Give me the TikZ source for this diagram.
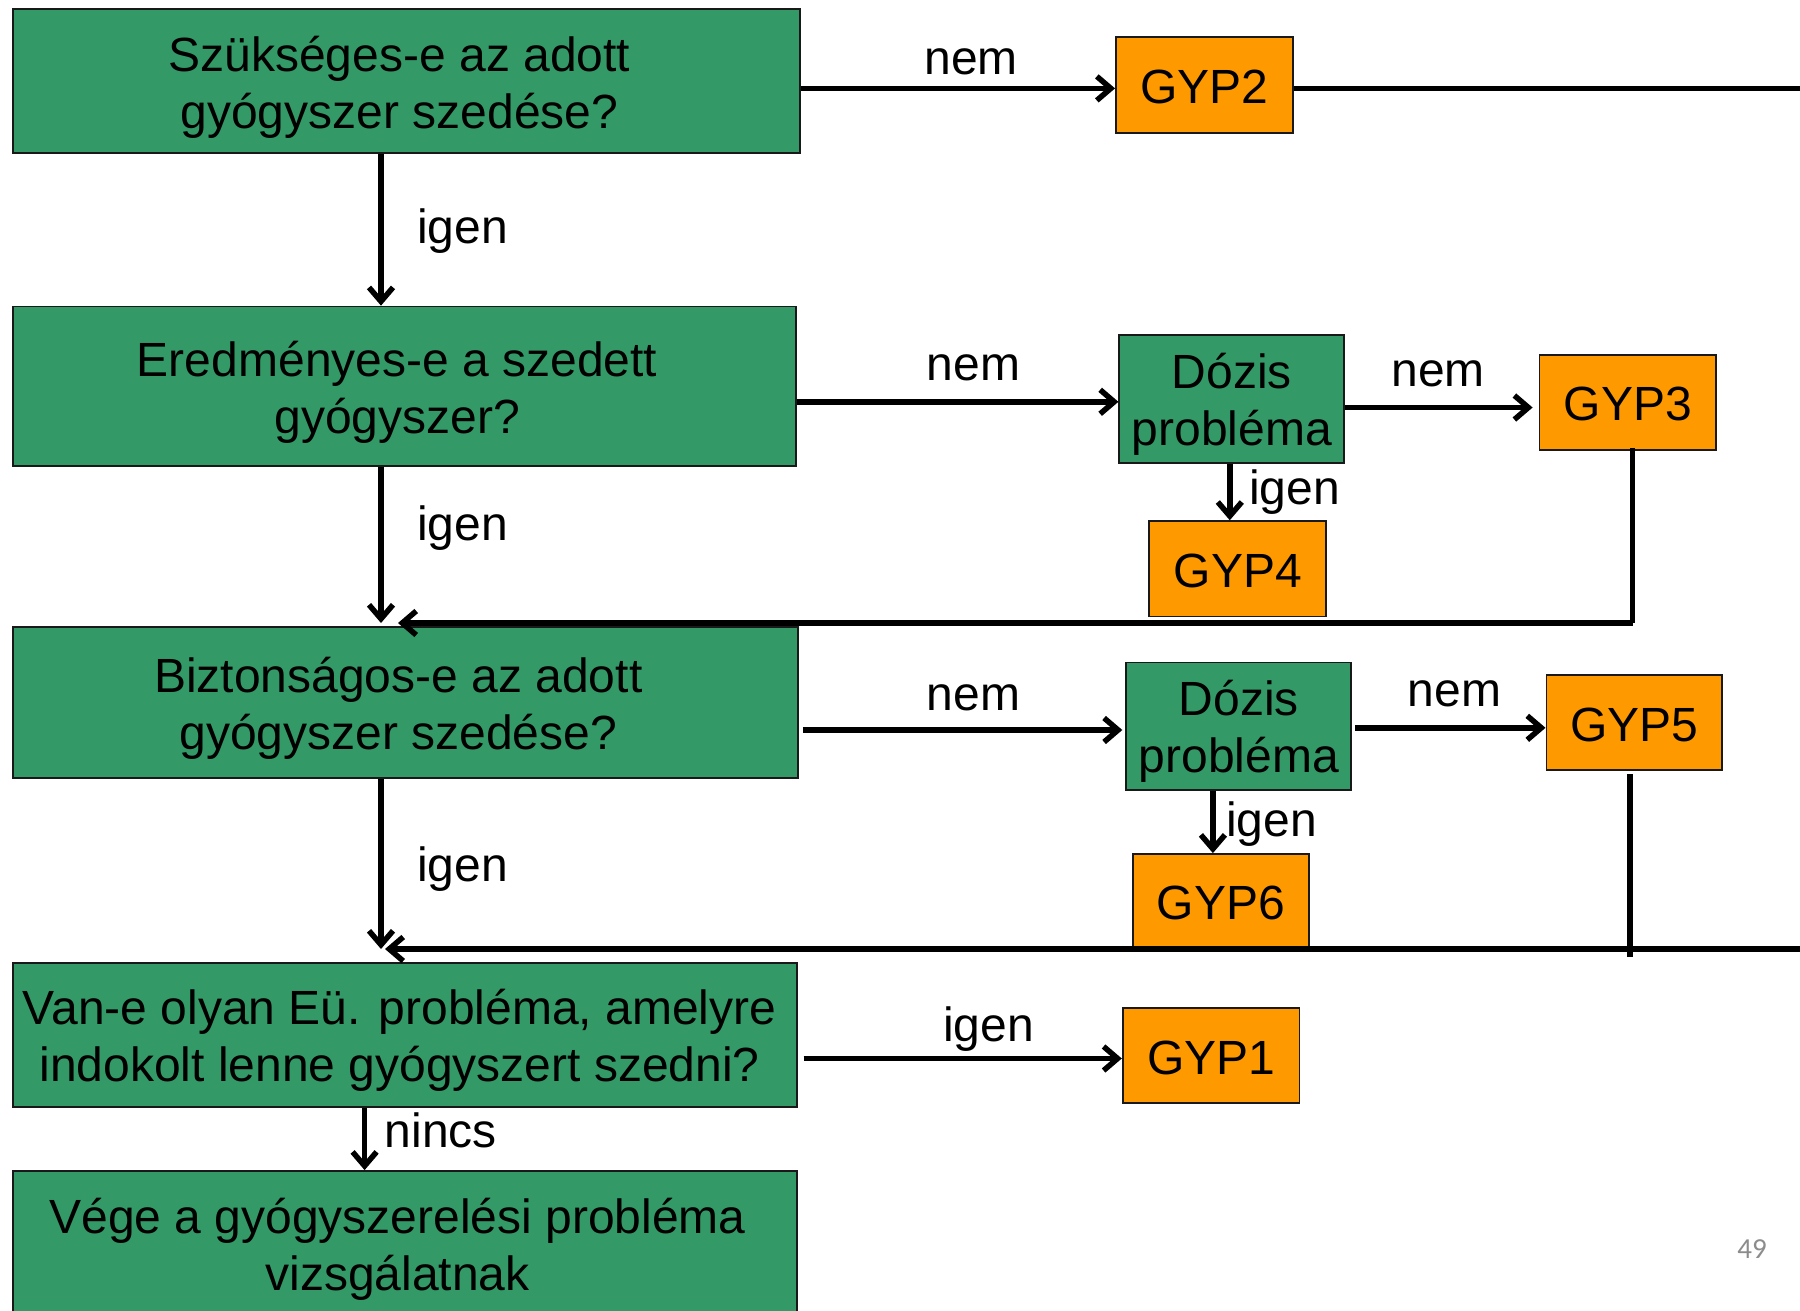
\documentclass[tikz,border=0pt]{standalone}
\usepackage{fontspec}
\setmainfont{Liberation Sans}
\newfontfamily\numfont{Carlito}
\usetikzlibrary{arrows.meta,calc}
\definecolor{gbox}{HTML}{339966}
\definecolor{obox}{HTML}{FF9900}
\definecolor{pnum}{HTML}{8C8C8C}
\begin{document}
\begin{tikzpicture}[x=1pt,y=-1pt,
  basebox/.style={draw=black!90, line width=1.8pt, inner sep=0pt},
  qbox/.style={basebox, fill=gbox},
  gyp/.style={basebox, fill=obox},
  boxtext/.style={inner sep=0pt, align=center, font=\fontsize{48}{57}\selectfont},
  conn/.style={line width=5.5pt},
  arr/.style={conn, -{Straight Barb[length=14pt,width=24pt]}},
  lbl/.style={inner sep=0pt, font=\fontsize{48}{57}\selectfont},
]
\useasboundingbox (0,0) rectangle (1800,1310);
\fill[white] (0,0) rectangle (1800,1310);

% question boxes
\node[qbox, minimum width=787.6pt, minimum height=143.5pt] (b1) at (406.4,81) {};
\node[qbox, minimum width=783pt, minimum height=159.5pt] (b2) at (404.1,386.3) {};
\node[qbox, minimum width=785.3pt, minimum height=151.5pt] (b3) at (405.3,702.6) {};
\node[qbox, minimum width=784pt, minimum height=143.7pt] (b4) at (404.6,1035) {};
\node[qbox, minimum width=784pt, minimum height=146pt] (b5) at (404.6,1244) {};
\node[boxtext] (b1t) at ($(b1.center)+(-7,6)$) {Szükséges-e az adott\\gyógyszer szedése?};
\node[boxtext] (b2t) at ($(b2.center)+(-7,6)$) {Eredményes-e a szedett\\gyógyszer?};
\node[boxtext] (b3t) at ($(b3.center)+(-7,6)$) {Biztonságos-e az adott\\gyógyszer szedése?};
\node[boxtext] (b4t) at ($(b4.center)+(-5,5)$) {Van-e olyan Eü. probléma, amelyre\\indokolt lenne gyógyszert szedni?};
\node[boxtext] (b5t) at ($(b5.center)+(-7,5)$) {Vége a gyógyszerelési probléma\\vizsgálatnak};

% dose boxes
\node[qbox, minimum width=225pt, minimum height=127.4pt] (d1) at (1231.8,398.9) {};
\node[qbox, minimum width=225pt, minimum height=127.4pt] (d2) at (1238.7,726.1) {};
\node[boxtext] (d1t) at ($(d1.center)+(0,5)$) {Dózis\\probléma};
\node[boxtext] (d2t) at ($(d2.center)+(0,5)$) {Dózis\\probléma};

% result boxes
\node[gyp, minimum width=176.7pt, minimum height=96.5pt] (g2) at (1204.3,85) {};
\node[gyp, minimum width=176.8pt, minimum height=95.3pt] (g3) at (1627.9,402.4) {};
\node[gyp, minimum width=177pt, minimum height=95.3pt] (g4) at (1237.7,568.8) {};
\node[gyp, minimum width=175.6pt, minimum height=95.3pt] (g5) at (1634.2,722.7) {};
\node[gyp, minimum width=175.6pt, minimum height=94pt] (g6) at (1220.9,901) {};
\node[gyp, minimum width=176.8pt, minimum height=95.3pt] (g1) at (1211.1,1055.6) {};
\node[boxtext] (g2t) at ($(g2.center)+(0,2)$) {GYP2};
\node[boxtext] (g3t) at ($(g3.center)+(0,2)$) {GYP3};
\node[boxtext] (g4t) at ($(g4.center)+(0,2)$) {GYP4};
\node[boxtext] (g5t) at ($(g5.center)+(0,2)$) {GYP5};
\node[boxtext] (g6t) at ($(g6.center)+(0,2)$) {GYP6};
\node[boxtext] (g1t) at ($(g1.center)+(0,2)$) {GYP1};

% helper coordinates
\coordinate (sp) at (381,0);
\coordinate (y1) at (0,88.4);
\coordinate (r1) at (1800,88.4);
\coordinate (y2) at (0,401.8);
\coordinate (y3) at (0,407.5);
\coordinate (c3) at (1632.5,623);
\coordinate (fb1) at (398,623);
\coordinate (y4) at (0,730);
\coordinate (y5) at (0,727.8);
\coordinate (r2) at (1800,949);
\coordinate (fb2) at (385,949);
\coordinate (e5) at (1630,957);
\coordinate (y6) at (0,1058.5);

% connectors
\draw[arr] (b1.east |- y1) -- (g2.west |- y1);
\draw[conn] (g2.east |- r1) -- (r1);
\draw[arr] (b1.south -| sp) -- (b2.north -| sp);

\draw[arr] (b2.east |- y2) -- (d1.west |- y2);
\draw[arr] (d1.east |- y3) -- ($(g3.west |- y3)+(-6,0)$);
\draw[arr] ($(d1.south)+(-2,0)$) -- ($(d1.south |- g4.north)+(-2,0)$);
\draw[conn] ($(c3 |- g3.south)+(0,-3)$) -- (c3);
\draw[arr] (c3) -- (fb1);
\draw[arr] (b2.south -| sp) -- (fb1 -| sp);

\draw[arr] ($(b3.east |- y4)+(4,0)$) -- ($(d2.west |- y4)+(-3,0)$);
\draw[arr] ($(d2.east |- y5)+(3,0)$) -- (g5.west |- y5);
\draw[arr] ($(g6.north |- d2.south)+(-8,0)$) -- ($(g6.north)+(-8,0)$);
\draw[conn] ($(e5 |- g5.south)+(0,3)$) -- (e5);
\draw[arr] (r2) -- (fb2);
\draw[arr] (b3.south -| sp) -- (fb2 -| sp);

\draw[arr] ($(b4.east |- y6)+(6,0)$) -- (g1.west |- y6);
\draw[arr] ($(b4.south)+(-40,0)$) -- ($(b5.north)+(-40,0)$);

% labels
\node[lbl, anchor=base] (l1) at (971,74) {nem};
\node[lbl, anchor=base west] (l2) at (417,243) {igen};
\node[lbl, anchor=base] (l3) at (973.5,380) {nem};
\node[lbl, anchor=base] (l4) at (1438,386) {nem};
\node[lbl, anchor=base west] (l5) at (1249,504) {igen};
\node[lbl, anchor=base west] (l6) at (417,540) {igen};
\node[lbl, anchor=base] (l7) at (973.5,710) {nem};
\node[lbl, anchor=base] (l8) at (1454.5,706) {nem};
\node[lbl, anchor=base west] (l9) at (1226,836) {igen};
\node[lbl, anchor=base west] (l10) at (417,881) {igen};
\node[lbl, anchor=base] (l11) at (988.4,1041) {igen};
\node[lbl, anchor=base west] (l12) at (384.6,1147) {nincs};

\node[inner sep=0pt, text=pnum, font=\numfont\fontsize{29}{34}\selectfont] (pg) at (1752,1249) {49};
\end{tikzpicture}
\end{document}
